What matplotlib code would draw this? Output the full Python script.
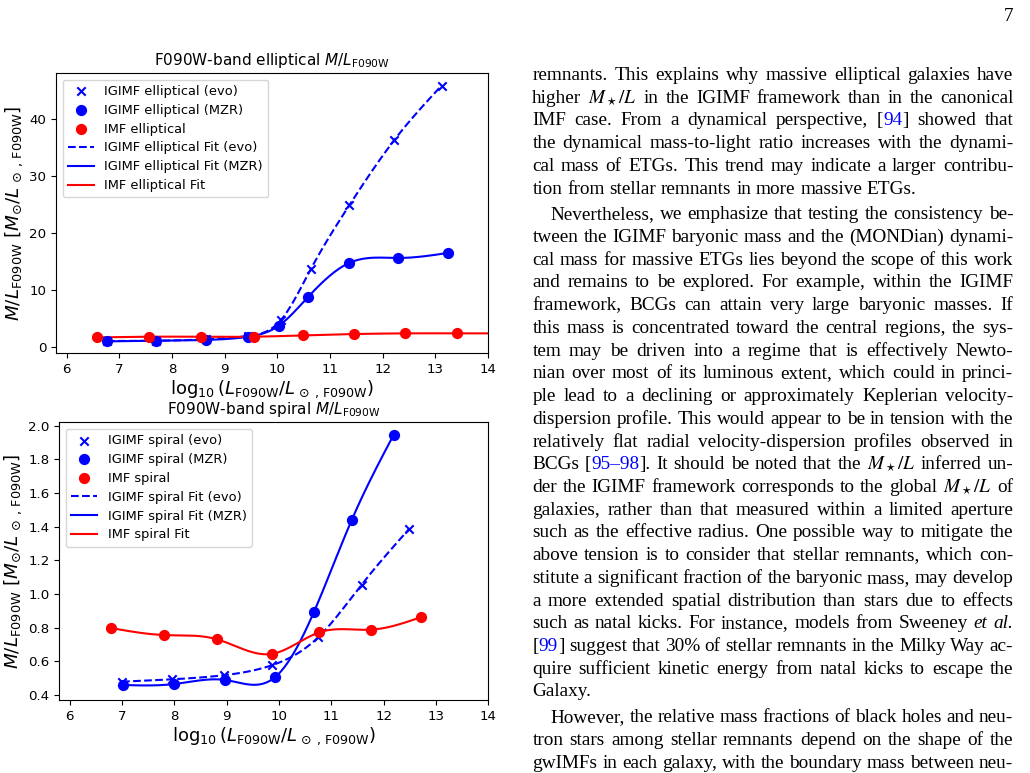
import re
import numpy as np
import matplotlib
matplotlib.use("Agg")
import matplotlib.pyplot as plt

# ---- elliptical M/L data ----
ell_evo_x = [6.77, 7.70, 8.65, 9.45, 10.07, 10.64, 11.37, 12.22, 13.12]
ell_evo_y = [1.0, 1.06, 1.3, 1.9, 4.7, 13.7, 24.9, 36.3, 45.9]
ell_mzr_x = [6.76, 7.70, 8.65, 9.45, 10.03, 10.58, 11.36, 12.30, 13.25]
ell_mzr_y = [0.94, 1.06, 1.2, 1.76, 3.7, 8.7, 14.7, 15.6, 16.5]
ell_imf_x = [6.58, 7.57, 8.56, 9.55, 10.49, 11.45, 12.42, 13.42]
ell_imf_y = [1.64, 1.76, 1.76, 1.76, 2.0, 2.23, 2.35, 2.35]

# ---- spiral M/L data ----
sp_evo_x = [7.0, 7.96, 8.94, 9.86, 10.75, 11.58, 12.48]
sp_evo_y = [0.479, 0.493, 0.517, 0.576, 0.743, 1.056, 1.384]
sp_mzr_x = [7.02, 8.0, 8.97, 9.93, 10.67, 11.39, 12.19]
sp_mzr_y = [0.459, 0.465, 0.489, 0.507, 0.895, 1.44, 1.945]
sp_imf_x = [6.78, 7.8, 8.81, 9.86, 10.77, 11.76, 12.72]
sp_imf_y = [0.798, 0.756, 0.731, 0.644, 0.772, 0.788, 0.863]

# ---- right column text ({..} = blue citation, *..* = italic) ----
text_lines = [
    ("remnants. This explains why massive elliptical galaxies have", "j"),
    ("higher $M_\\star/L$ in the IGIMF framework than in the canonical", "j"),
    ("IMF case. From a dynamical perspective, [{94}] showed that", "j"),
    ("the dynamical mass-to-light ratio increases with the dynami-", "j"),
    ("cal mass of ETGs. This trend may indicate a larger contribu-", "j"),
    ("tion from stellar remnants in more massive ETGs.", "l"),
    ("Nevertheless, we emphasize that testing the consistency be-", "i"),
    ("tween the IGIMF baryonic mass and the (MONDian) dynami-", "j"),
    ("cal mass for massive ETGs lies beyond the scope of this work", "j"),
    ("and remains to be explored. For example, within the IGIMF", "j"),
    ("framework, BCGs can attain very large baryonic masses. If", "j"),
    ("this mass is concentrated toward the central regions, the sys-", "j"),
    ("tem may be driven into a regime that is effectively Newto-", "j"),
    ("nian over most of its luminous extent, which could in princi-", "j"),
    ("ple lead to a declining or approximately Keplerian velocity-", "j"),
    ("dispersion profile. This would appear to be in tension with the", "j"),
    ("relatively flat radial velocity-dispersion profiles observed in", "j"),
    ("BCGs [{95–98}]. It should be noted that the $M_\\star/L$ inferred un-", "j"),
    ("der the IGIMF framework corresponds to the global $M_\\star/L$ of", "j"),
    ("galaxies, rather than that measured within a limited aperture", "j"),
    ("such as the effective radius. One possible way to mitigate the", "j"),
    ("above tension is to consider that stellar remnants, which con-", "j"),
    ("stitute a significant fraction of the baryonic mass, may develop", "j"),
    ("a more extended spatial distribution than stars due to effects", "j"),
    ("such as natal kicks. For instance, models from Sweeney *et* *al.*", "j"),
    ("[{99}] suggest that 30% of stellar remnants in the Milky Way ac-", "j"),
    ("quire sufficient kinetic energy from natal kicks to escape the", "j"),
    ("Galaxy.", "l"),
    ("However, the relative mass fractions of black holes and neu-", "i"),
    ("tron stars among stellar remnants depend on the shape of the", "j"),
    ("gwIMFs in each galaxy, with the boundary mass between neu-", "j"),
]


def spline(x, y, xs):
    # natural cubic spline through the points
    x = np.asarray(x, float)
    y = np.asarray(y, float)
    n = len(x)
    h = np.diff(x)
    A = np.zeros((n, n))
    b = np.zeros(n)
    A[0, 0] = 1
    A[-1, -1] = 1
    for i in range(1, n - 1):
        A[i, i - 1] = h[i - 1]
        A[i, i] = 2 * (h[i - 1] + h[i])
        A[i, i + 1] = h[i]
        b[i] = 6 * ((y[i + 1] - y[i]) / h[i] - (y[i] - y[i - 1]) / h[i - 1])
    M = np.linalg.solve(A, b)
    idx = np.clip(np.searchsorted(x, xs) - 1, 0, n - 2)
    x0, x1 = x[idx], x[idx + 1]
    hh = x1 - x0
    return (M[idx] * (x1 - xs) ** 3 / (6 * hh) + M[idx + 1] * (xs - x0) ** 3 / (6 * hh)
            + (y[idx] / hh - M[idx] * hh / 6) * (x1 - xs)
            + (y[idx + 1] / hh - M[idx + 1] * hh / 6) * (xs - x0))


W, H = 1030, 773
fig = plt.figure(figsize=(10.3, 7.73), dpi=100)


def axbox(l, t, r, b):
    return [l / W, 1 - b / H, (r - l) / W, (b - t) / H]


ylab = r"$M/L_{\rm F090W}\ [M_{\odot}/L_{\,\odot\,,\,\rm F090W}]$"
xlab = r"$\log_{10}(L_{\rm F090W}/L_{\,\odot\,,\,\rm F090W})$"


def panel(ax, kind, evo, mzr, imf, imf_end):
    h1 = ax.scatter(evo[0], evo[1], marker="x", color="blue", s=36, zorder=3,
                    label="IGIMF %s (evo)" % kind)
    h2 = ax.scatter(mzr[0], mzr[1], marker="o", color="blue", s=50, zorder=3,
                    label="IGIMF %s (MZR)" % kind)
    h3 = ax.scatter(imf[0], imf[1], marker="o", color="red", s=50, zorder=3,
                    label="IMF %s" % kind)
    xs = np.linspace(min(evo[0]), max(evo[0]), 300)
    l1, = ax.plot(xs, spline(evo[0], evo[1], xs), "--", color="blue", lw=1.5,
                  label="IGIMF %s Fit (evo)" % kind)
    xs = np.linspace(min(mzr[0]), max(mzr[0]), 300)
    l2, = ax.plot(xs, spline(mzr[0], mzr[1], xs), "-", color="blue", lw=1.5,
                  label="IGIMF %s Fit (MZR)" % kind)
    xs = np.linspace(min(imf[0]), imf_end, 300)
    l3, = ax.plot(xs, spline(imf[0], imf[1], xs), "-", color="red", lw=1.5,
                  label="IMF %s Fit" % kind)
    ax.legend(handles=[h1, h2, h3, l1, l2, l3], loc="upper left", fontsize=9.4,
              labelspacing=0.45)
    ax.set_xlim(5.8, 14)
    ax.set_xticks(range(6, 15))
    ax.tick_params(labelsize=9.6)
    ax.set_title(r"F090W-band %s $M/L_{\rm F090W}$" % kind, fontsize=11)
    ax.set_xlabel(xlab, fontsize=13, labelpad=2)
    ax.set_ylabel(ylab, fontsize=13.2, labelpad=3)


ax1 = fig.add_axes(axbox(56, 73, 488, 353))
panel(ax1, "elliptical", (ell_evo_x, ell_evo_y), (ell_mzr_x, ell_mzr_y),
      (ell_imf_x, ell_imf_y), 14.3)
ax1.set_ylim(-1.1, 48.1)
ax1.set_yticks([0, 10, 20, 30, 40])

ax2 = fig.add_axes(axbox(59.3, 422.3, 488.3, 700))
panel(ax2, "spiral", (sp_evo_x, sp_evo_y), (sp_mzr_x, sp_mzr_y),
      (sp_imf_x, sp_imf_y), max(sp_imf_x))
ax2.set_ylim(0.37, 2.02)
ax2.set_yticks(np.arange(0.4, 2.01, 0.2))

# ---- right column, justified by hand ----
fs = 13.9
left, right, indent = 532.3, 1013.3, 550.7
y0, step, pgap = 80.0, 22.72, 3.0
renderer = fig.canvas.get_renderer()
seg_re = re.compile(r"(\{[^}]*\}|\*[^*]*\*|\$[^$]*\$|[^{*$]+)")


def make_word(word):
    segs = []
    for s in seg_re.findall(word):
        kw = dict(fontsize=fs, family="Liberation Serif", math_fontfamily="stix",
                  color="black", va="baseline", ha="left")
        if s.startswith("{"):
            s = s[1:-1]
            kw["color"] = "blue"
        elif s.startswith("*"):
            s = s[1:-1]
            kw["style"] = "italic"
        t = fig.text(0, 0, s, **kw)
        segs.append((t, t.get_window_extent(renderer).width))
    return segs


y = y0
for k, (line, mode) in enumerate(text_lines):
    if mode == "i" and k > 0:
        y += pgap
    words = [make_word(w) for w in line.split()]
    widths = [sum(w for _, w in segs) for segs in words]
    x = indent if mode == "i" else left
    if mode == "l" or len(words) < 2:
        gap = 0.25 * fs * 100 / 72
    else:
        gap = (right - x - sum(widths)) / (len(words) - 1)
    for segs, wd in zip(words, widths):
        xx = x
        for t, w in segs:
            t.set_position((xx / W, 1 - y / H))
            xx += w
        x += wd + gap
    y += step

fig.text(right / W, 1 - 21 / H, "7", fontsize=fs, family="Liberation Serif",
         ha="right", va="baseline")

fig.savefig("out.png", dpi=100)
